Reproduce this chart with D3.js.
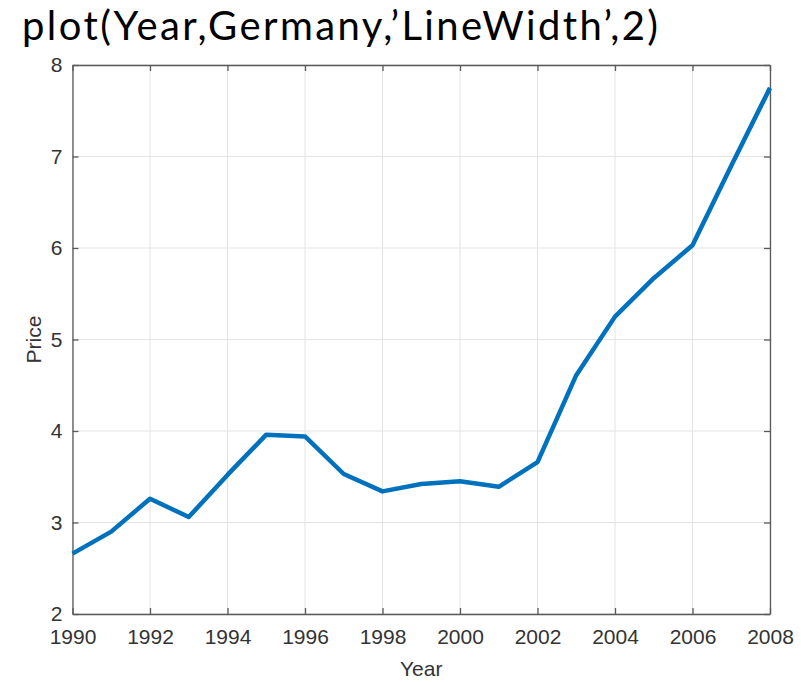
<!DOCTYPE html>
<html>
<head>
<meta charset="utf-8">
<title>plot Germany</title>
<script src="https://d3js.org/d3.v7.min.js"></script>
<style>
  body { margin: 0; background: #fff; }
</style>
</head>
<body>
<script>
// data
var years = [1990, 1991, 1992, 1993, 1994, 1995, 1996, 1997, 1998, 1999,
             2000, 2001, 2002, 2003, 2004, 2005, 2006, 2007, 2008];
var germany = [2.66, 2.90, 3.26, 3.06, 3.52, 3.96, 3.94, 3.53, 3.34, 3.42,
               3.45, 3.39, 3.66, 4.61, 5.25, 5.67, 6.03, 6.90, 7.75];
var xTicks = [1990, 1992, 1994, 1996, 1998, 2000, 2002, 2004, 2006, 2008];
var yTicks = [2, 3, 4, 5, 6, 7, 8];
var titleText = "plot(Year,Germany,\u2019LineWidth\u2019,2)";

var W = 801, H = 682;
var mLeft = 72.5, mRight = 770, mTop = 65, mBottom = 614;
var labelFont = "'Liberation Sans', Arial, sans-serif";

var svg = d3.select("body").append("svg")
  .attr("width", W).attr("height", H);

var x = d3.scaleLinear().domain([1990, 2008]).range([mLeft, mRight]);
var y = d3.scaleLinear().domain([2, 8]).range([mBottom, mTop]);

// title
svg.append("text")
  .attr("x", 22).attr("y", 40)
  .style("font-family", "Lato, 'Open Sans', sans-serif")
  .style("font-size", "40px")
  .style("font-weight", "400")
  .attr("textLength", 636).attr("lengthAdjust", "spacing")
  .attr("fill", "#000")
  .text(titleText);

// grid
svg.append("g").selectAll("line").data(xTicks).enter().append("line")
  .attr("x1", function(d){ return x(d); }).attr("x2", function(d){ return x(d); })
  .attr("y1", mTop).attr("y2", mBottom)
  .attr("stroke", "#e3e3e3").attr("stroke-width", 1);
svg.append("g").selectAll("line").data(yTicks).enter().append("line")
  .attr("y1", function(d){ return y(d); }).attr("y2", function(d){ return y(d); })
  .attr("x1", mLeft).attr("x2", mRight)
  .attr("stroke", "#e3e3e3").attr("stroke-width", 1);

// axes (ticks point inwards, box on all sides)
var axColor = "#5a5a5a";
function styleAxis(g) {
  g.attr("font-family", labelFont).attr("font-size", 21);
  g.select(".domain").attr("stroke", axColor).attr("stroke-width", 1.3);
  g.selectAll(".tick line").attr("stroke", axColor).attr("stroke-width", 1.3);
  g.selectAll(".tick text").attr("fill", "#333");
}

var xAxis = svg.append("g").attr("transform", "translate(0," + mBottom + ")")
  .call(d3.axisBottom(x).tickValues(xTicks).tickFormat(d3.format("d"))
    .tickSizeInner(-6).tickSizeOuter(0).tickPadding(15));
styleAxis(xAxis);

var xTop = svg.append("g").attr("transform", "translate(0," + mTop + ")")
  .call(d3.axisTop(x).tickValues(xTicks).tickFormat("")
    .tickSizeInner(-6).tickSizeOuter(0));
styleAxis(xTop);

var yAxis = svg.append("g").attr("transform", "translate(" + mLeft + ",0)")
  .call(d3.axisLeft(y).tickValues(yTicks).tickFormat(d3.format("d"))
    .tickSizeInner(-6).tickSizeOuter(0).tickPadding(10));
styleAxis(yAxis);

var yRight = svg.append("g").attr("transform", "translate(" + mRight + ",0)")
  .call(d3.axisRight(y).tickValues(yTicks).tickFormat("")
    .tickSizeInner(-6).tickSizeOuter(0));
styleAxis(yRight);

// the data line
var line = d3.line()
  .x(function(d, i){ return x(years[i]); })
  .y(function(d){ return y(d); });

svg.append("path")
  .datum(germany)
  .attr("d", line)
  .attr("fill", "none")
  .attr("stroke", "#0072BD")
  .attr("stroke-width", 4.5)
  .attr("stroke-linejoin", "round");

// axis labels
svg.append("text")
  .attr("x", (mLeft + mRight) / 2).attr("y", 676)
  .attr("text-anchor", "middle")
  .attr("font-family", labelFont)
  .attr("font-size", 21).attr("fill", "#333")
  .text("Year");

svg.append("text")
  .attr("transform", "translate(41," + ((mTop + mBottom) / 2) + ") rotate(-90)")
  .attr("text-anchor", "middle")
  .attr("font-family", labelFont)
  .attr("font-size", 21).attr("fill", "#333")
  .text("Price");
</script>
</body>
</html>
